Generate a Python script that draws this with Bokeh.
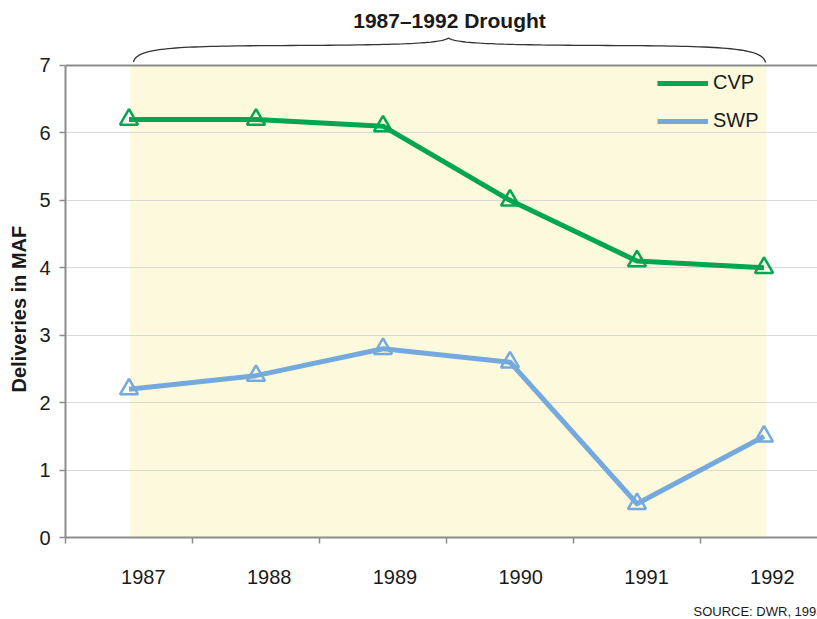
import numpy as np
from bokeh.plotting import figure
from bokeh.models import (Range1d, FixedTicker, Span, Label, PolyAnnotation, Legend,
                          LegendItem, Title)
from bokeh.embed import file_html
from bokeh.resources import INLINE

# ---------------- data ----------------
years = ["1987", "1988", "1989", "1990", "1991", "1992"]
cvp = [6.2, 6.2, 6.1, 5.0, 4.1, 4.0]
swp = [2.2, 2.4, 2.8, 2.6, 0.5, 1.5]
y_ticks = [0, 1, 2, 3, 4, 5, 6, 7]
title_text = "1987\u20131992 Drought"
source_text = "SOURCE: DWR, 1993"
y_label = "Deliveries in MAF"

FONT = "Liberation Sans"
GREEN = "#00A651"
BLUE = "#74A9DE"
GRAY = "#8C8C8C"
TXT = "#1a1a1a"

xs = list(range(len(years)))

# pixel geometry (page coords): frame left 65, bottom 537, 127 px per category, 67.43 px per unit
X0, Y0, SX, SY = 65.0, 537.0, 127.0, 67.43

def px2x(px):
    return (px - X0) / SX - 0.5

def py2y(py):
    return (Y0 - py) / SY

p = figure(width=817, height=619, output_backend="svg", toolbar_location=None,
           x_range=Range1d(-0.5, px2x(817)), y_range=Range1d(0, py2y(0)),
           min_border_left=65, min_border_right=0, min_border_top=0, min_border_bottom=82)
p.outline_line_color = None
p.background_fill_color = "white"
p.border_fill_color = "white"

# drought shading
p.quad(left=[0.01], right=[5.02], bottom=[0], top=[7], fill_color="#FDF9DC",
       line_color=None, level="image")

# grid
p.xgrid.visible = False
p.ygrid.ticker = FixedTicker(ticks=y_ticks[1:-1])
p.ygrid.grid_line_color = "#D9D9D9"
p.ygrid.grid_line_width = 1

# top border of the plot box
p.add_layout(Span(location=7, dimension="width", line_color=GRAY, line_width=2))

# y axis
ya = p.yaxis[0]
ya.ticker = FixedTicker(ticks=y_ticks)
ya.bounds = (0, 7)
ya.axis_line_color = GRAY
ya.axis_line_width = 2
ya.major_tick_line_color = GRAY
ya.major_tick_line_width = 1.5
ya.major_tick_out = 6
ya.major_tick_in = 0
ya.minor_tick_line_color = None
ya.major_label_text_font = FONT
ya.major_label_text_font_size = "20px"
ya.major_label_text_color = TXT
ya.major_label_standoff = 9

p.add_layout(Title(text=y_label, align="left", offset=145, vertical_align="middle",
                   text_font=FONT, text_font_size="20px", text_font_style="bold",
                   text_color=TXT, standoff=12), "left")

# x axis: minor ticks at category boundaries, labels slightly offset
label_pos = [0.113 + i * (125.8 / 127.0) for i in xs]
bounds = [i - 0.5 for i in range(len(years) + 1)]
xa = p.xaxis[0]
xa.ticker = FixedTicker(ticks=label_pos, minor_ticks=bounds)
xa.major_label_overrides = {lp: y for lp, y in zip(label_pos, years)}
xa.axis_line_color = GRAY
xa.axis_line_width = 2
xa.major_tick_line_color = None
xa.major_tick_out = 0
xa.major_tick_in = 0
xa.minor_tick_line_color = GRAY
xa.minor_tick_line_width = 1.5
xa.minor_tick_out = 6
xa.minor_tick_in = 0
xa.major_label_text_font = FONT
xa.major_label_text_font_size = "20px"
xa.major_label_text_color = TXT
xa.major_label_standoff = 26

p.add_layout(Title(text="\n" + source_text, align="left", offset=628, vertical_align="bottom",
                   text_font=FONT, text_font_size="13px", text_font_style="normal",
                   text_color=TXT, standoff=0), "below")

# series
l1 = p.line(xs, cvp, line_color=GREEN, line_width=5, line_join="round")
p.scatter(xs, cvp, marker="triangle", size=18, fill_color=None, line_color=GREEN, line_width=2.5)
l2 = p.line(xs, swp, line_color=BLUE, line_width=5, line_join="round")
p.scatter(xs, swp, marker="triangle", size=18, fill_color=None, line_color=BLUE, line_width=2.5)

legend = Legend(items=[LegendItem(label="CVP", renderers=[l1]),
                       LegendItem(label="SWP", renderers=[l2])],
                location=(592, 405))
legend.background_fill_alpha = 0
legend.border_line_color = None
legend.margin = 0
legend.padding = 0
legend.glyph_width = 51
legend.glyph_height = 20
legend.label_height = 20
legend.label_standoff = 5
legend.spacing = 15
legend.label_text_font = FONT
legend.label_text_font_size = "20px"
legend.label_text_color = TXT
p.add_layout(legend)

# brace above the drought period (page pixels -> data)
def bez(p0, p1, p2, p3, n=40):
    t = np.linspace(0, 1, n)[:, None]
    a, b, c, d = map(np.array, (p0, p1, p2, p3))
    return ((1 - t) ** 3) * a + 3 * ((1 - t) ** 2) * t * b + 3 * (1 - t) * t * t * c + t ** 3 * d

seg1 = bez((133, 61.5), (136, 47), (175, 45.5), (290, 45))
seg2 = bez((290, 45), (400, 44.5), (440, 43), (448, 37.5))
seg3 = bez((448, 37.5), (456, 43), (496, 44.5), (607, 45))
seg4 = bez((607, 45), (722, 45.5), (762, 47), (765, 62))
pts = np.vstack([seg1, seg2, seg3, seg4])
bx = [px2x(v) for v in pts[:, 0]]
by = [py2y(v) for v in pts[:, 1]]
p.add_layout(PolyAnnotation(xs=bx + bx[::-1], ys=by + by[::-1], fill_alpha=0,
                            line_color="#333333", line_alpha=1.0, line_width=1.3))

p.add_layout(Label(x=px2x(449), y=py2y(20), text=title_text, text_align="center",
                   text_baseline="middle", text_font=FONT, text_font_size="21px",
                   text_font_style="bold", text_color=TXT))

open("out.html", "w").write(file_html(p, INLINE))
